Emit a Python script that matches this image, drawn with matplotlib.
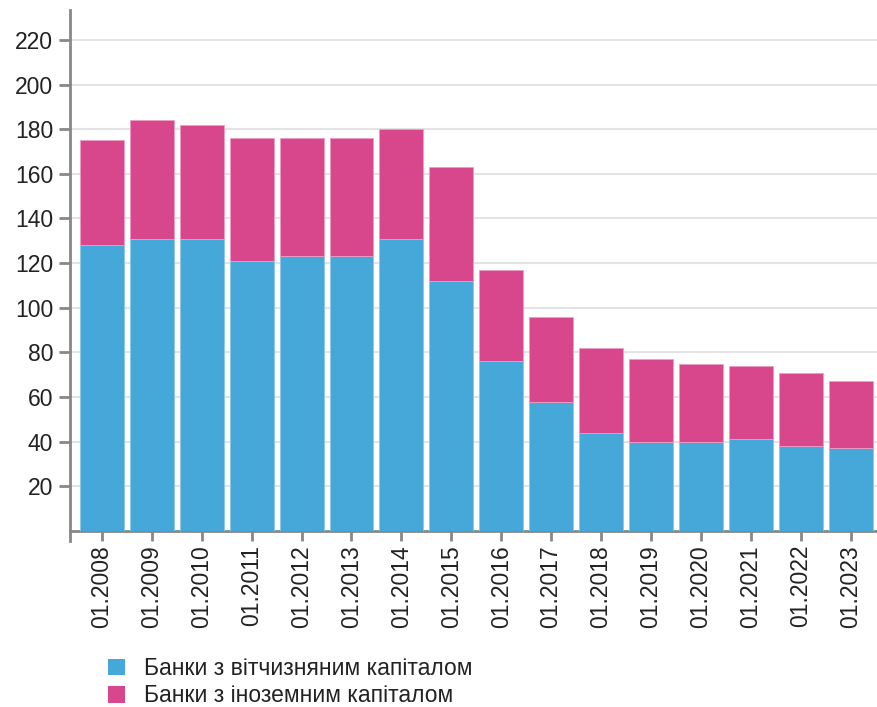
import matplotlib
matplotlib.use("Agg")
import matplotlib.pyplot as plt
from matplotlib.patches import Patch

years = ["01.2008", "01.2009", "01.2010", "01.2011", "01.2012", "01.2013", "01.2014", "01.2015",
         "01.2016", "01.2017", "01.2018", "01.2019", "01.2020", "01.2021", "01.2022", "01.2023"]
domestic = [128, 131, 131, 121, 123, 123, 131, 112, 76, 58, 44, 40, 40, 41, 38, 37]
foreign = [47, 53, 51, 55, 53, 53, 49, 51, 41, 38, 38, 37, 35, 33, 33, 30]
series_names = ["Банки з вітчизняним капіталом", "Банки з іноземним капіталом"]
yticks = [20, 40, 60, 80, 100, 120, 140, 160, 180, 200, 220]

blue = "#45a8d8"
pink = "#d8468c"

plt.rcParams['font.family'] = ['Liberation Sans', 'DejaVu Sans']
FS = 16.5

fig = plt.figure(figsize=(8.78, 7.07), dpi=100)
ax = fig.add_axes([70/878, 1 - 531/707, (877 - 70)/878, (531 - 10)/707])

x = list(range(len(years)))
ax.bar(x, domestic, width=0.88, color=blue, edgecolor="#8cc8e8", linewidth=0.6, zorder=3)
ax.bar(x, foreign, bottom=domestic, width=0.88, color=pink, edgecolor="#ee9cc4", linewidth=0.6, zorder=3)

ax.set_xlim(-0.64, 15.53)
ax.set_ylim(0, 233.4)
ax.set_yticks(yticks)
ax.set_yticklabels([str(v) for v in yticks], fontsize=FS, color="#222222")
ax.set_xticks(x)
ax.set_xticklabels(years, rotation=90, fontsize=FS, color="#222222")
ax.grid(axis="y", color="#e3e3e3", linewidth=1.5, zorder=0)
ax.set_axisbelow(True)

for s in ["top", "right"]:
    ax.spines[s].set_visible(False)
for s in ["left", "bottom"]:
    ax.spines[s].set_color("#888888")
    ax.spines[s].set_linewidth(2)
ax.spines["left"].set_bounds(-4.5, 233.4)
ax.tick_params(axis="y", color="#888888", width=2, length=8, pad=4)
ax.tick_params(axis="x", color="#888888", width=2, length=7, pad=3)

handles = [Patch(facecolor=blue, label=series_names[0]), Patch(facecolor=pink, label=series_names[1])]
fig.legend(handles=handles, loc="upper left", bbox_to_anchor=(108/878, 1 - 657/707),
           frameon=False, fontsize=FS, handlelength=0.75, handleheight=0.75,
           handletextpad=0.8, labelspacing=0.18, borderpad=0, borderaxespad=0,
           labelcolor="#222222")

fig.savefig("out.png", dpi=100)
